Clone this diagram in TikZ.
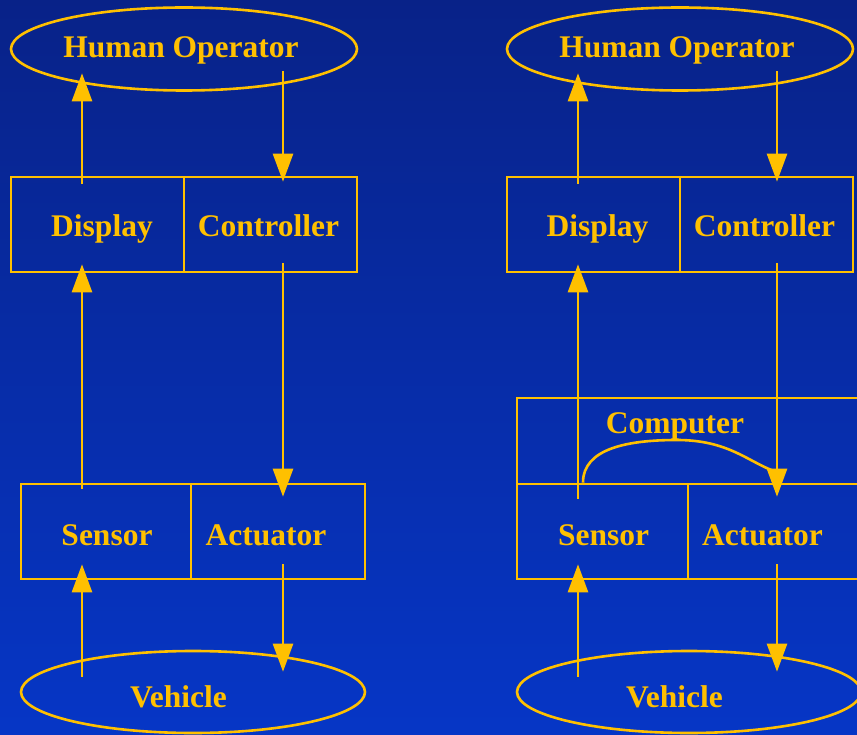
\documentclass[tikz,border=0pt]{standalone}
\usepackage{fontspec}
\setmainfont{Liberation Serif}
\usetikzlibrary{shapes.geometric,arrows.meta,calc}
\definecolor{gold}{RGB}{255,192,0}
\definecolor{bgtop}{RGB}{8,34,136}
\definecolor{bgbot}{RGB}{6,54,198}
\tikzset{
  frame/.style={draw=gold,line width=2.6pt,inner sep=0pt},
  oval/.style={frame,ellipse,minimum width=344pt,minimum height=82pt},
  cell/.style={frame,rectangle,minimum height=95pt},
  txt/.style={text=gold,font=\fontsize{31.5}{36}\selectfont\bfseries,anchor=base,inner sep=0pt},
  flow/.style={draw=gold,line width=2.6pt,-{Triangle[length=28pt,width=20pt]}},
  link/.style={draw=gold,line width=2.6pt}
}
\begin{document}
\begin{tikzpicture}[x=1pt,y=-1pt]
\useasboundingbox (0,0) rectangle (857,735);
\clip (0,0) rectangle (857,735);
\shade[top color=bgtop,bottom color=bgbot] (0,0) rectangle (857,735);

% ---------- left loop: manual control ----------
\node[oval,minimum width=346pt,minimum height=83pt] (hoL) at (184,49) {};
\node[cell,minimum width=173pt] (dispL) at (97.5,224.5) {};
\node[cell,minimum width=173pt] (ctrlL) at (270.5,224.5) {};
\node[cell,minimum width=170pt] (senL) at (106,531.5) {};
\node[cell,minimum width=174pt] (actL) at (278,531.5) {};
\node[oval] (vehL) at (193,692) {};

\node[txt] (tHoL) at (181,58) {Human Operator};
\node[txt] (tDispL) at (102,237) {Display};
\node[txt] (tCtrlL) at (268.5,237) {Controller};
\node[txt] (tSenL) at (107,545) {Sensor};
\node[txt] (tActL) at (266,545) {Actuator};
\node[txt] (tVehL) at (178.5,707) {Vehicle};

\coordinate (upL) at (82,0);
\coordinate (dnL) at (283,0);
\draw[flow] ($(dispL.north -| upL)+(0,8)$) -- ($(hoL.south -| upL)+(0,-18.5)$);
\draw[flow] ($(hoL.south -| dnL)+(0,-20.5)$) -- ($(ctrlL.north -| dnL)+(0,6)$);
\draw[flow] ($(senL.north -| upL)+(0,6)$) -- ($(dispL.south -| upL)+(0,-9)$);
\draw[flow] ($(ctrlL.south -| dnL)+(0,-10)$) -- ($(actL.north -| dnL)+(0,14)$);
\draw[flow] ($(vehL.north -| upL)+(0,27)$) -- ($(senL.south -| upL)+(0,-16)$);
\draw[flow] ($(actL.south -| dnL)+(0,-16)$) -- ($(vehL.north -| dnL)+(0,22)$);

% ---------- right loop: computer in the loop ----------
\node[oval,minimum width=346pt,minimum height=83pt] (hoR) at (680,49) {};
\node[cell,minimum width=173pt] (dispR) at (593.5,224.5) {};
\node[cell,minimum width=173pt] (ctrlR) at (766.5,224.5) {};
\node[cell,minimum width=344pt,minimum height=86pt] (compR) at (689,441) {};
\node[cell,minimum width=171pt] (senR) at (602.5,531.5) {};
\node[cell,minimum width=173pt] (actR) at (774.5,531.5) {};
\node[oval] (vehR) at (689,692) {};

\node[txt] (tHoR) at (677,58) {Human Operator};
\node[txt] (tDispR) at (597.5,237) {Display};
\node[txt] (tCtrlR) at (764.5,237) {Controller};
\node[txt] (tCompR) at (675,433) {Computer};
\node[txt] (tSenR) at (603.5,545) {Sensor};
\node[txt] (tActR) at (762.5,545) {Actuator};
\node[txt] (tVehR) at (674.5,707) {Vehicle};

\coordinate (upR) at (578,0);
\coordinate (dnR) at (777,0);
\draw[flow] ($(dispR.north -| upR)+(0,8)$) -- ($(hoR.south -| upR)+(0,-18.5)$);
\draw[flow] ($(hoR.south -| dnR)+(0,-20.5)$) -- ($(ctrlR.north -| dnR)+(0,6)$);
\draw[flow] ($(senR.north -| upR)+(0,16)$) -- ($(dispR.south -| upR)+(0,-9)$);
\draw[flow] ($(ctrlR.south -| dnR)+(0,-10)$) -- ($(actR.north -| dnR)+(0,14)$);
\draw[flow] ($(vehR.north -| upR)+(0,27)$) -- ($(senR.south -| upR)+(0,-16)$);
\draw[flow] ($(actR.south -| dnR)+(0,-16)$) -- ($(vehR.north -| dnR)+(0,22)$);

% sensor signal routed through the computer to the actuator
\coordinate (arcTop) at ($(compR.center)+(-12,-1)$);
\draw[link] ($(senR.north -| upR)+(5,0)$)
  .. controls ($(senR.north -| upR)+(5,-34)$) and ($(arcTop)+(-50,0)$) .. (arcTop)
  .. controls ($(arcTop)+(50,0)$) and ($(actR.north -| dnR)+(-30,-22)$) .. ($(actR.north -| dnR)+(-4,-12)$);
\end{tikzpicture}
\end{document}
